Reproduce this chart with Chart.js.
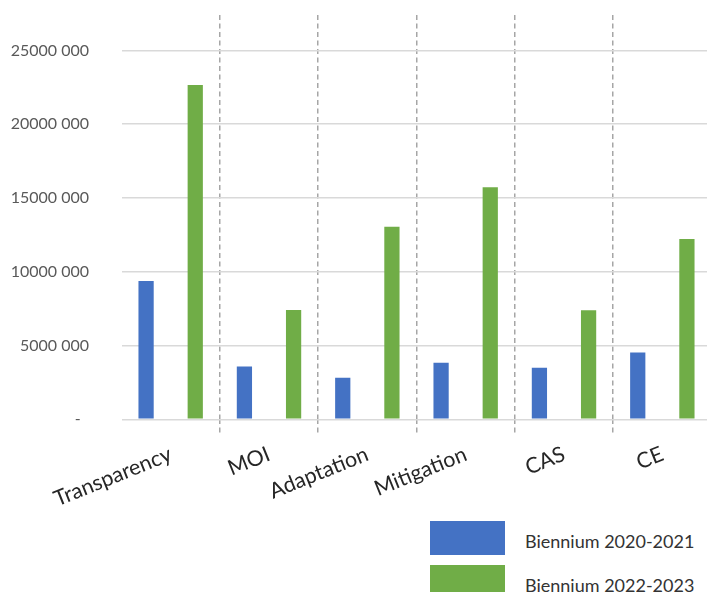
<!DOCTYPE html>
<html>
<head>
<meta charset="utf-8">
<script src="https://cdn.jsdelivr.net/npm/chart.js@4"></script>
<style>
  html, body { margin: 0; padding: 0; background: #fff; overflow: hidden; width: 707px; height: 592px; }
  #wrap { position: absolute; left: 0; top: 0; width: 714px; height: 520px; }
  #legend { position: absolute; left: 430px; top: 521px; font-family: Lato, sans-serif; font-size: 18px; color: #333; }
  .item { display: flex; align-items: center; height: 34px; margin-bottom: 9.5px; }
  .swatch { width: 75px; height: 34px; margin-right: 20px; flex: none; }
  .label { position: relative; top: 3px; white-space: nowrap; }
</style>
</head>
<body>
<div id="wrap"><canvas id="c"></canvas></div>
<div id="legend"></div>
<script>
// Budget by work area, two biennia
const categories = ['Transparency', 'MOI', 'Adaptation', 'Mitigation', 'CAS', 'CE'];
const biennium2020 = [9380000, 3570000, 2820000, 3840000, 3500000, 4520000];
const biennium2022 = [22660000, 7410000, 13050000, 15730000, 7390000, 12220000];
const seriesNames = ['Biennium 2020-2021', 'Biennium 2022-2023'];
const yTickValues = [0, 5000000, 10000000, 15000000, 20000000, 25000000];
const yTickLabels = ['-', '5000 000', '10000 000', '15000 000', '20000 000', '25000 000'];

const BLUE = '#4472C4';
const GREEN = '#70AD47';

const chart = new Chart(document.getElementById('c'), {
  type: 'bar',
  data: {
    labels: categories,
    datasets: [
      { label: seriesNames[0], data: biennium2020, backgroundColor: BLUE },
      { label: seriesNames[1], data: biennium2022, backgroundColor: GREEN }
    ]
  },
  options: {
    responsive: true,
    maintainAspectRatio: false,
    animation: false,
    datasets: { bar: { categoryPercentage: 1.0, barPercentage: 0.31 } },
    layout: { padding: { top: 15, right: 2.5, bottom: 0, left: 0 } },
    plugins: { legend: { display: false }, tooltip: { enabled: false } },
    scales: {
      x: {
        grid: {
          offset: true,
          drawOnChartArea: true,
          drawTicks: true,
          tickLength: 16,
          lineWidth: 1.5,
          // dashed separators between categories only (no outer edges)
          color: (ctx) => (ctx.type === 'tick' && ctx.index > 0) ? '#a6a6a6' : 'rgba(0,0,0,0)',
          tickBorderDash: [5, 3.5]
        },
        border: { display: false, dash: [5, 3.5] },
        ticks: {
          minRotation: 22,
          maxRotation: 22,
          padding: 6,
          color: '#262626',
          font: { family: 'Lato', size: 21.5 }
        },
        afterFit: (scale) => { scale.height = 520 - 419.3; }
      },
      y: {
        min: 0,
        max: 27400000,
        afterBuildTicks: (scale) => {
          scale.ticks = yTickValues.map(v => ({ value: v }));
        },
        grid: {
          color: '#d9d9d9',
          lineWidth: 1.5,
          drawTicks: true,
          tickLength: 32.5,
          tickColor: 'rgba(0,0,0,0)'
        },
        border: { display: false },
        ticks: {
          padding: 0,
          color: '#595959',
          font: { family: 'Lato', size: 16 },
          callback: (value) => {
            const i = yTickValues.indexOf(value);
            if (i < 0) return '';
            return i === 0 ? yTickLabels[0] + '  ' : yTickLabels[i];
          }
        },
        afterFit: (scale) => { scale.width = 121.5; }
      }
    }
  }
});

// HTML legend built from the datasets
const legendEl = document.getElementById('legend');
chart.data.datasets.forEach(ds => {
  const item = document.createElement('div');
  item.className = 'item';
  const sw = document.createElement('span');
  sw.className = 'swatch';
  sw.style.background = ds.backgroundColor;
  const lb = document.createElement('span');
  lb.className = 'label';
  lb.textContent = ds.label;
  item.appendChild(sw);
  item.appendChild(lb);
  legendEl.appendChild(item);
});
</script>
</body>
</html>
